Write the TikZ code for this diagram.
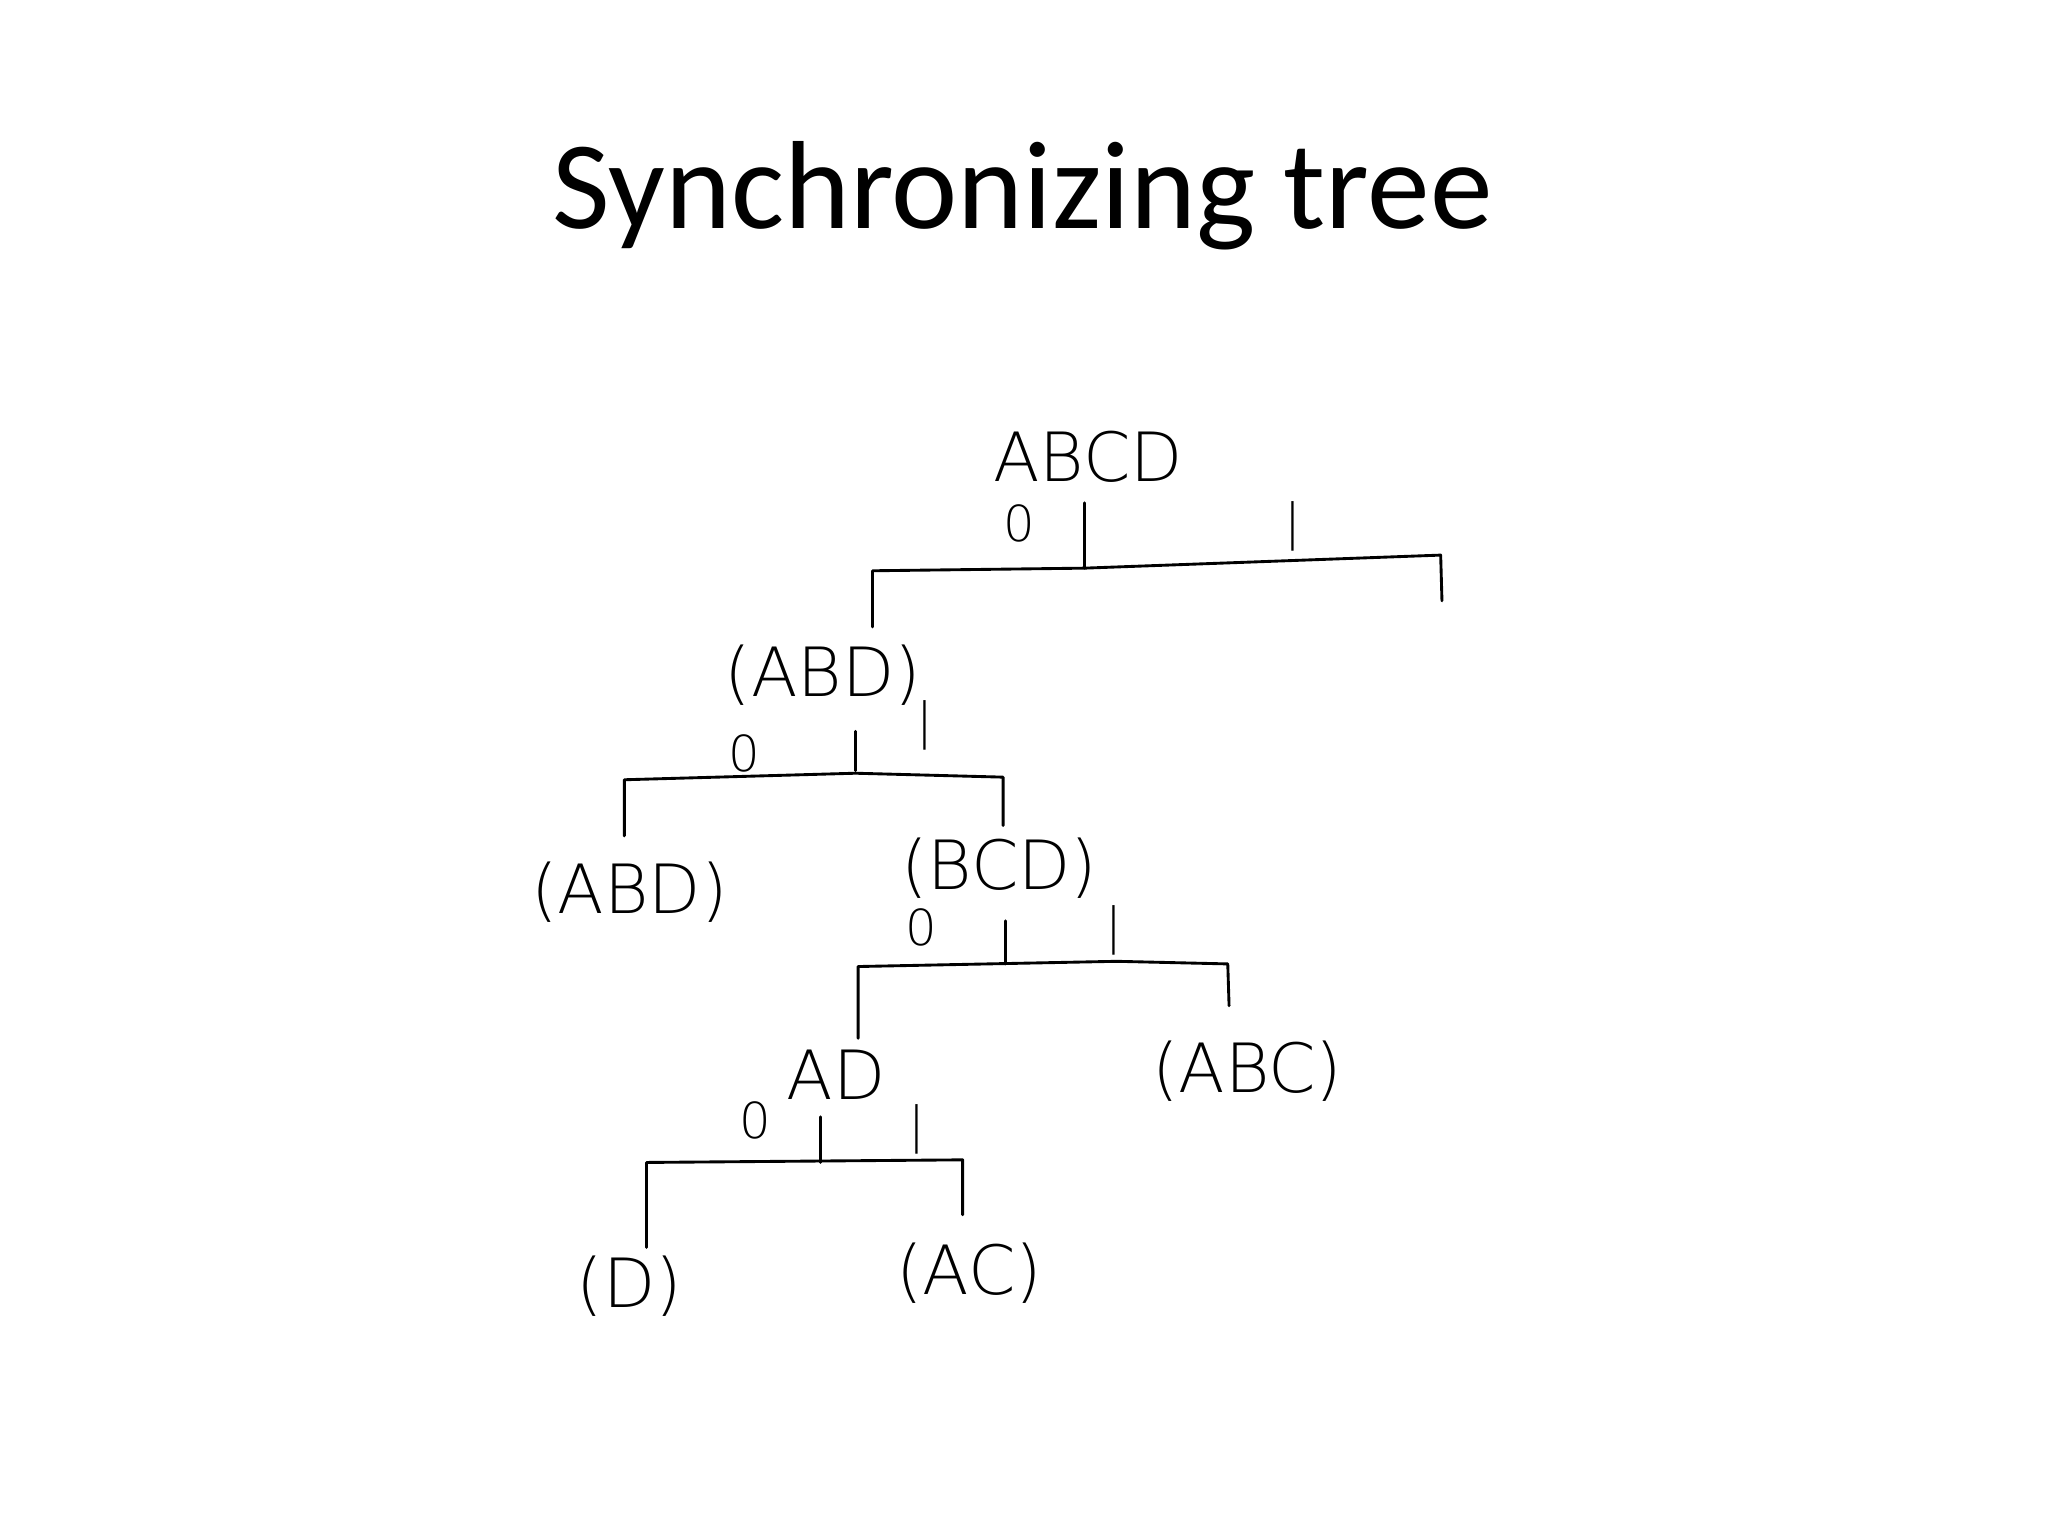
\documentclass[tikz,border=0pt]{standalone}
\usepackage{fontspec}
\setmainfont{Carlito}
\newfontfamily\hand{DejaVu Sans ExtraLight}
\begin{document}
\begin{tikzpicture}[x=0.5pt,y=-0.5pt,
  lab/.style={font=\hand\fontsize{26}{28}\selectfont,inner sep=0pt},
  bit/.style={font=\hand\fontsize{19}{20}\selectfont,inner sep=0pt},
  br/.style={line width=1.1pt,line cap=round,line join=round}]
\useasboundingbox (0,0) rectangle (1568,1176);
\node[font=\fontsize{48}{52}\selectfont] (title) at (783,150) {Synchronizing tree};
% level 1
\node[lab] (r) at (833,350) {ABCD};
\node[bit] (r0) at (780,401) {0};
\node[bit] (r1) at (990,403) {|};
\coordinate (r1l) at (668,437); \coordinate (r1r) at (1103,425);
\coordinate (r1t) at (830,385); \coordinate (r1m) at (830,435);
\draw[br] (r1t) -- (r1m);
\draw[br] (668,480) -- (r1l) -- (r1m) -- (r1r) -- (1104,460);
% level 2
\node[lab] (n1) at (630,517) {(ABD)};
\node[bit] (n10) at (570,577) {0};
\node[bit] (n11) at (708,555) {|};
\draw[br] (655,560) -- (655,590);
\draw[br] (478,640) -- (478,597) -- (655,592) -- (768,595) -- (768,632);
\node[lab] (n2) at (482,683) {(ABD)};
\node[lab] (n3) at (765,665) {(BCD)};
% level 3
\node[bit] (n30) at (705,710) {0};
\node[bit] (n31) at (853,712) {|};
\draw[br] (770,705) -- (770,738);
\draw[br] (657,795) -- (657,740) -- (855,736) -- (940,738) -- (941,770);
\node[lab] (n4) at (640,823) {AD};
\node[lab] (n5) at (955,820) {(ABC)};
% level 4
\node[bit] (n40) at (578,858) {0};
\node[bit] (n41) at (702,865) {|};
\draw[br] (628,855) -- (628,890);
\draw[br] (495,955) -- (495,890) -- (737,888) -- (737,930);
\node[lab] (n6) at (482,985) {(D)};
\node[lab] (n7) at (742,975) {(AC)};
\end{tikzpicture}
\end{document}
